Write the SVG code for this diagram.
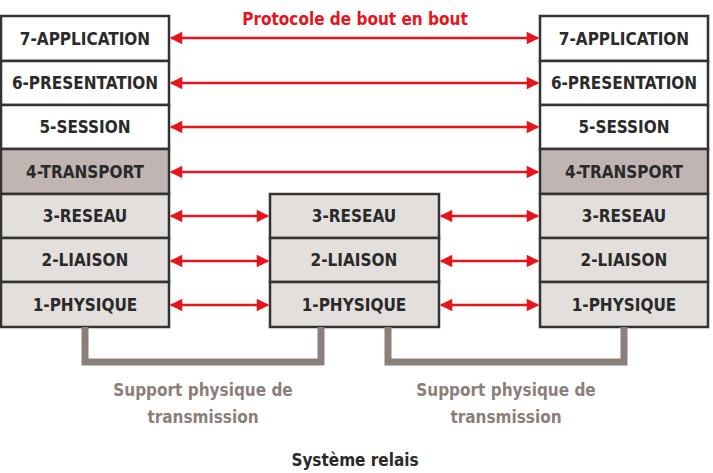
<svg xmlns="http://www.w3.org/2000/svg" width="713" height="473" viewBox="0 0 713 473">
<style>
.b{stroke:#333;stroke-width:2.5}
.w{fill:#fff}.t{fill:#c0b5b2}.g{fill:#e3dfdc}
text{font-family:"DejaVu Sans Condensed","DejaVu Sans",sans-serif;font-stretch:condensed;font-size:17px;font-weight:bold;text-anchor:middle}
.l{fill:#2a2a2a}
.a{stroke:#e8141c;stroke-width:2.5;marker-start:url(#h);marker-end:url(#h)}
.s{fill:none;stroke:#8a7f7b;stroke-width:7}
</style>
<defs><marker id="h" viewBox="0 0 10 10" refX="9" refY="5" markerWidth="5.5" markerHeight="5" orient="auto-start-reverse" markerUnits="strokeWidth"><path d="M0,0L10,5L0,10z" fill="#e8141c"/></marker></defs>
<g id="left">
<rect class="b w" x="1" y="16" width="168" height="45"/><text class="l" x="85" y="45">7-APPLICATION</text>
<rect class="b w" x="1" y="61" width="168" height="44"/><text class="l" x="85" y="89">6-PRESENTATION</text>
<rect class="b w" x="1" y="105" width="168" height="44"/><text class="l" x="85" y="133">5-SESSION</text>
<rect class="b t" x="1" y="149" width="168" height="45"/><text class="l" x="85" y="178">4-TRANSPORT</text>
<rect class="b g" x="1" y="194" width="168" height="44"/><text class="l" x="85" y="222">3-RESEAU</text>
<rect class="b g" x="1" y="238" width="168" height="44"/><text class="l" x="85" y="266">2-LIAISON</text>
<rect class="b g" x="1" y="282" width="168" height="45"/><text class="l" x="85" y="311">1-PHYSIQUE</text>
</g>
<g id="middle">
<rect class="b g" x="270" y="194" width="169" height="44"/><text class="l" x="354" y="222">3-RESEAU</text>
<rect class="b g" x="270" y="238" width="169" height="44"/><text class="l" x="354" y="266">2-LIAISON</text>
<rect class="b g" x="270" y="282" width="169" height="45"/><text class="l" x="354" y="311">1-PHYSIQUE</text>
</g>
<g id="right">
<rect class="b w" x="540" y="16" width="168" height="45"/><text class="l" x="624" y="45">7-APPLICATION</text>
<rect class="b w" x="540" y="61" width="168" height="44"/><text class="l" x="624" y="89">6-PRESENTATION</text>
<rect class="b w" x="540" y="105" width="168" height="44"/><text class="l" x="624" y="133">5-SESSION</text>
<rect class="b t" x="540" y="149" width="168" height="45"/><text class="l" x="624" y="178">4-TRANSPORT</text>
<rect class="b g" x="540" y="194" width="168" height="44"/><text class="l" x="624" y="222">3-RESEAU</text>
<rect class="b g" x="540" y="238" width="168" height="44"/><text class="l" x="624" y="266">2-LIAISON</text>
<rect class="b g" x="540" y="282" width="168" height="45"/><text class="l" x="624" y="311">1-PHYSIQUE</text>
</g>
<g id="connectors">
<line class="a" x1="171" y1="38" x2="538" y2="38"/>
<line class="a" x1="171" y1="83" x2="538" y2="83"/>
<line class="a" x1="171" y1="127" x2="538" y2="127"/>
<line class="a" x1="171" y1="172" x2="538" y2="172"/>
<line class="a" x1="171" y1="216" x2="268" y2="216"/>
<line class="a" x1="171" y1="261" x2="268" y2="261"/>
<line class="a" x1="171" y1="305" x2="268" y2="305"/>
<line class="a" x1="441" y1="216" x2="538" y2="216"/>
<line class="a" x1="441" y1="261" x2="538" y2="261"/>
<line class="a" x1="441" y1="305" x2="538" y2="305"/>
<path class="s" d="M85,327V362H321V327"/>
<path class="s" d="M388,327V362H624V327"/>
</g>
<text x="355" y="25" fill="#e8141c">Protocole de bout en bout</text>
<text x="203" y="396" fill="#8a7f7b">Support physique de</text>
<text x="203" y="423" fill="#8a7f7b">transmission</text>
<text x="506" y="396" fill="#8a7f7b">Support physique de</text>
<text x="506" y="423" fill="#8a7f7b">transmission</text>
<text class="l" x="355" y="466">Système relais</text>
</svg>
